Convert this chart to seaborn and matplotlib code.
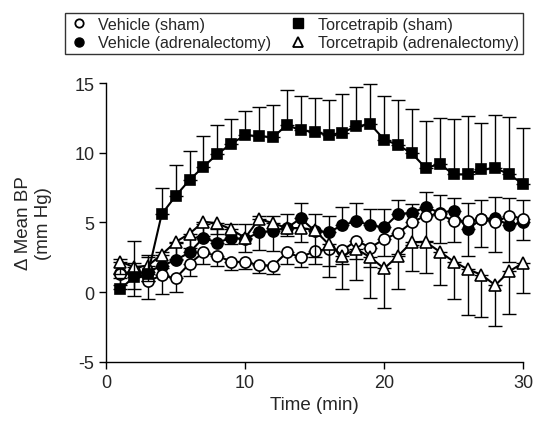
import matplotlib
matplotlib.use("Agg")
import matplotlib.pyplot as plt
from matplotlib.lines import Line2D
import seaborn as sns
import numpy as np
import pandas as pd

# time points (min)
minutos = list(range(1, 31))

# Vehicle (sham) - open circles, error bars downward
veh_sham = [1.3, 1.5, 0.8, 1.2, 1.0, 2.05, 2.85, 2.6, 2.2, 2.15, 1.95, 1.9, 2.85, 2.5, 2.95,
            3.1, 3.0, 3.7, 3.2, 3.8, 4.25, 5.0, 5.5, 5.6, 5.1, 5.1, 5.25, 5.0, 5.5, 5.25]
veh_sham_err = [0.8, 1.75, 1.3, 1.3, 1.0, 0.9, 0.8, 0.7, 0.6, 0.5, 0.6, 0.6, 0.8, 0.7, 0.9,
                1.2, 1.0, 1.3, 1.4, 1.2, 1.5, 1.6, 1.8, 2.1, 1.5, 2.5, 2.0, 2.1, 3.3, 1.5]

# Vehicle (adrenalectomy) - filled circles, error bars upward
veh_adx = [1.4, 1.3, 1.45, 1.9, 2.3, 2.85, 3.9, 3.55, 3.9, 3.8, 4.3, 4.4, 4.6, 5.3, 4.4,
           4.3, 4.8, 5.1, 4.8, 4.65, 5.6, 5.7, 6.1, 5.7, 5.85, 4.5, 5.25, 5.3, 4.8, 5.0]
veh_adx_err = [1.0, 2.4, 1.2, 1.0, 1.2, 1.1, 1.0, 1.0, 1.0, 1.1, 1.2, 1.1, 1.0, 1.1, 1.2,
               1.2, 1.3, 1.3, 1.2, 1.3, 1.0, 0.6, 1.05, 1.25, 0.9, 1.9, 1.35, 1.5, 1.95, 1.6]

# Torcetrapib (sham) - filled squares, error bars upward
torc_sham = [0.2, 1.1, 1.3, 5.6, 6.9, 8.05, 9.0, 9.9, 10.65, 11.25, 11.2, 11.1, 12.0, 11.6, 11.5,
             11.25, 11.45, 11.9, 12.05, 10.95, 10.55, 9.95, 8.9, 9.2, 8.45, 8.45, 8.8, 8.9, 8.45, 7.75]
torc_sham_err = [0.8, 1.0, 1.2, 1.9, 2.2, 2.05, 2.2, 2.1, 1.8, 1.75, 2.05, 2.3, 2.5, 2.5, 2.4,
                 2.55, 2.75, 2.85, 2.9, 3.1, 3.2, 3.2, 3.4, 3.3, 3.95, 4.2, 3.3, 3.8, 4.1, 4.05]

# Torcetrapib (adrenalectomy) - open triangles, error bars downward
torc_adx = [2.2, 1.8, 1.9, 2.7, 3.6, 4.2, 5.05, 4.95, 4.5, 3.9, 5.25, 4.95, 4.6, 4.6, 4.45,
            3.45, 2.6, 3.1, 2.5, 1.7, 2.6, 3.6, 3.6, 2.9, 2.2, 1.65, 1.25, 0.5, 1.5, 2.1]
torc_adx_err = [0.9, 1.6, 1.1, 1.0, 1.2, 1.0, 1.0, 0.8, 1.05, 1.0, 2.2, 2.0, 0.6, 1.0, 1.9,
                2.35, 2.4, 2.2, 2.95, 2.8, 2.4, 2.1, 2.2, 2.4, 2.7, 3.3, 3.0, 2.9, 3.1, 2.15]

rotulos = ["Vehicle (sham)", "Vehicle (adrenalectomy)",
           "Torcetrapib (sham)", "Torcetrapib (adrenalectomy)"]

sns.set_theme(style="ticks")
plt.rcParams['font.family'] = ['Liberation Sans', 'DejaVu Sans']
plt.rcParams['axes.unicode_minus'] = False

fig = plt.figure(figsize=(5.36, 4.31), dpi=100)
ax = fig.add_axes([0.198, 0.158, 0.778, 0.647])

# (valores, erros, direcao, marcador, face, ordem)
series = [
    (veh_adx, veh_adx_err, "up", "o", "black", 3),
    (veh_sham, veh_sham_err, "down", "o", "white", 4),
    (torc_adx, torc_adx_err, "down", "^", "white", 5),
    (torc_sham, torc_sham_err, "up", "s", "black", 6),
]

for valores, erros, direcao, marc, face, z in series:
    valores = np.array(valores)
    erros = np.array(erros)
    zeros = np.zeros_like(erros)
    yerr = [zeros, erros] if direcao == "up" else [erros, zeros]
    ax.errorbar(minutos, valores, yerr=yerr, fmt="none", ecolor="black",
                elinewidth=1.0, capsize=5, capthick=1.0, zorder=z - 0.5, clip_on=False)
    df = pd.DataFrame({"t": minutos, "v": valores})
    sns.lineplot(data=df, x="t", y="v", ax=ax, color="black", linewidth=1.5,
                 marker=marc, markersize=8 if marc != "s" else 7.5,
                 markerfacecolor=face, markeredgecolor="black", markeredgewidth=1.2,
                 zorder=z, clip_on=False)

ax.set_xlim(0, 30)
ax.set_ylim(-5, 15)
ax.set_xticks([0, 10, 20, 30])
ax.set_yticks([-5, 0, 5, 10, 15])
ax.tick_params(labelsize=13, length=5, width=1, color="black", direction="out")
for s in ["top", "right"]:
    ax.spines[s].set_visible(False)
for s in ["left", "bottom"]:
    ax.spines[s].set_color("black")
    ax.spines[s].set_linewidth(1)

ax.set_xlabel("Time (min)", fontsize=13.5, labelpad=4)
ax.set_ylabel("\u0394 Mean BP\n(mm Hg)", fontsize=13.5, labelpad=16)

handles = [
    Line2D([], [], linestyle="none", marker="o", markersize=6, mfc="white", mec="black", mew=1.3),
    Line2D([], [], linestyle="none", marker="o", markersize=6.5, mfc="black", mec="black"),
    Line2D([], [], linestyle="none", marker="s", markersize=6.5, mfc="black", mec="black"),
    Line2D([], [], linestyle="none", marker="^", markersize=6.5, mfc="white", mec="black", mew=1.3),
]
leg = fig.legend(handles, rotulos, ncol=2, loc="upper left", bbox_to_anchor=(0.121, 0.9675),
                 fontsize=11.6, frameon=True, fancybox=False, edgecolor="black",
                 handlelength=1.2, handletextpad=0.6, columnspacing=1.1,
                 borderpad=0.25, labelspacing=0.2, borderaxespad=0)
leg.get_frame().set_linewidth(1)

plt.savefig("out.png", dpi=100)
